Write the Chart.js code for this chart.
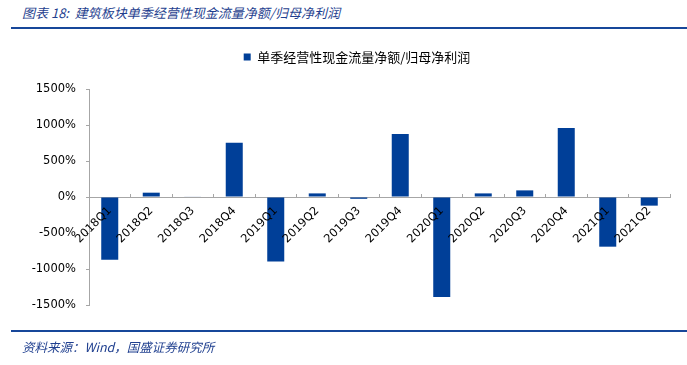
<!DOCTYPE html>
<html>
<head>
<meta charset="utf-8">
<script src="https://cdn.jsdelivr.net/npm/chart.js@4.4.1/dist/chart.umd.min.js"></script>
<style>
  html, body { margin: 0; padding: 0; background: #fff; }
  #wrap { position: relative; width: 687px; height: 365px; overflow: hidden; }
  #c { position: absolute; left: 0; top: 0; }
  .title { position: absolute; left: 22px; top: 4px; font-family: "Noto Sans CJK SC", "DejaVu Sans", sans-serif; font-style: italic; font-size: 13px; color: #1f3f8f; line-height: 18px; white-space: nowrap; }
  .rule { position: absolute; left: 11px; width: 676px; height: 2px; background: #17479a; }
  .src { position: absolute; left: 22px; top: 338px; font-family: "Noto Sans CJK SC", "DejaVu Sans", sans-serif; font-style: italic; font-size: 12.5px; color: #1f3f8f; line-height: 18px; white-space: nowrap; }
</style>
</head>
<body>
<div id="wrap">
  <div class="title">图表 18:&nbsp;&nbsp;建筑板块单季经营性现金流量净额/归母净利润</div>
  <div class="rule" style="top:27px;"></div>
  <canvas id="c" width="687" height="365"></canvas>
  <div class="rule" style="top:330px;"></div>
  <div class="src">资料来源：Wind，国盛证券研究所</div>
</div>
<script>
const categories = ["2018Q1","2018Q2","2018Q3","2018Q4","2019Q1","2019Q2","2019Q3","2019Q4","2020Q1","2020Q2","2020Q3","2020Q4","2021Q1","2021Q2"];
const seriesName = "单季经营性现金流量净额/归母净利润";
const ratioValues = [-870, 60, 8, 755, -895, 50, -25, 875, -1390, 50, 92, 960, -690, -120];
const yTicks = [-1500, -1000, -500, 0, 500, 1000, 1500];

const axisColor = '#a6a6a6';
const tickFont = { family: "'DejaVu Sans', sans-serif", size: 11.5 };

// shift the legend band so it is centred where the reference centres it
const legendShift = {
  id: 'legendShift',
  afterLayout(chart) {
    if (chart.legend) { chart.legend.left += 44; }
  }
};

new Chart(document.getElementById('c'), {
  type: 'bar',
  data: {
    labels: categories,
    datasets: [{
      label: seriesName,
      data: ratioValues,
      backgroundColor: '#003f98',
      borderWidth: 0,
      barPercentage: 1.0,
      categoryPercentage: 0.41
    }]
  },
  plugins: [legendShift],
  options: {
    responsive: false,
    animation: false,
    devicePixelRatio: 1,
    layout: { padding: { left: 0, right: 17, top: 40.5, bottom: 60 } },
    plugins: {
      legend: {
        display: true,
        position: 'top',
        labels: {
          boxWidth: 7,
          boxHeight: 7,
          padding: 10,
          color: '#000',
          font: { family: "'Noto Sans CJK SC', sans-serif", size: 13 }
        }
      },
      title: {
        display: true,
        text: '',
        weight: 500,
        font: { size: 10 },
        padding: { top: 0, bottom: 3.5 }
      },
      tooltip: { enabled: false }
    },
    scales: {
      y: {
        min: yTicks[0],
        max: yTicks[yTicks.length - 1],
        afterBuildTicks: (s) => { s.ticks = yTicks.map(v => ({ value: v })); },
        afterFit: (s) => { s.width = 89; },
        ticks: {
          color: '#000',
          font: tickFont,
          padding: 10,
          callback: (v) => v + '%'
        },
        grid: { display: true, drawOnChartArea: false, drawTicks: true, tickLength: 3, color: axisColor },
        border: { display: true, color: axisColor, width: 1 }
      },
      x: {
        position: { y: 0 },
        ticks: {
          z: 1,
          color: '#000',
          font: tickFont,
          maxRotation: 45,
          minRotation: 45,
          autoSkip: false,
          padding: 11
        },
        grid: { display: true, drawOnChartArea: false, drawTicks: true, tickLength: -4, color: axisColor, offset: true },
        border: { display: true, color: axisColor, width: 1 }
      }
    }
  }
});
</script>
</body>
</html>
